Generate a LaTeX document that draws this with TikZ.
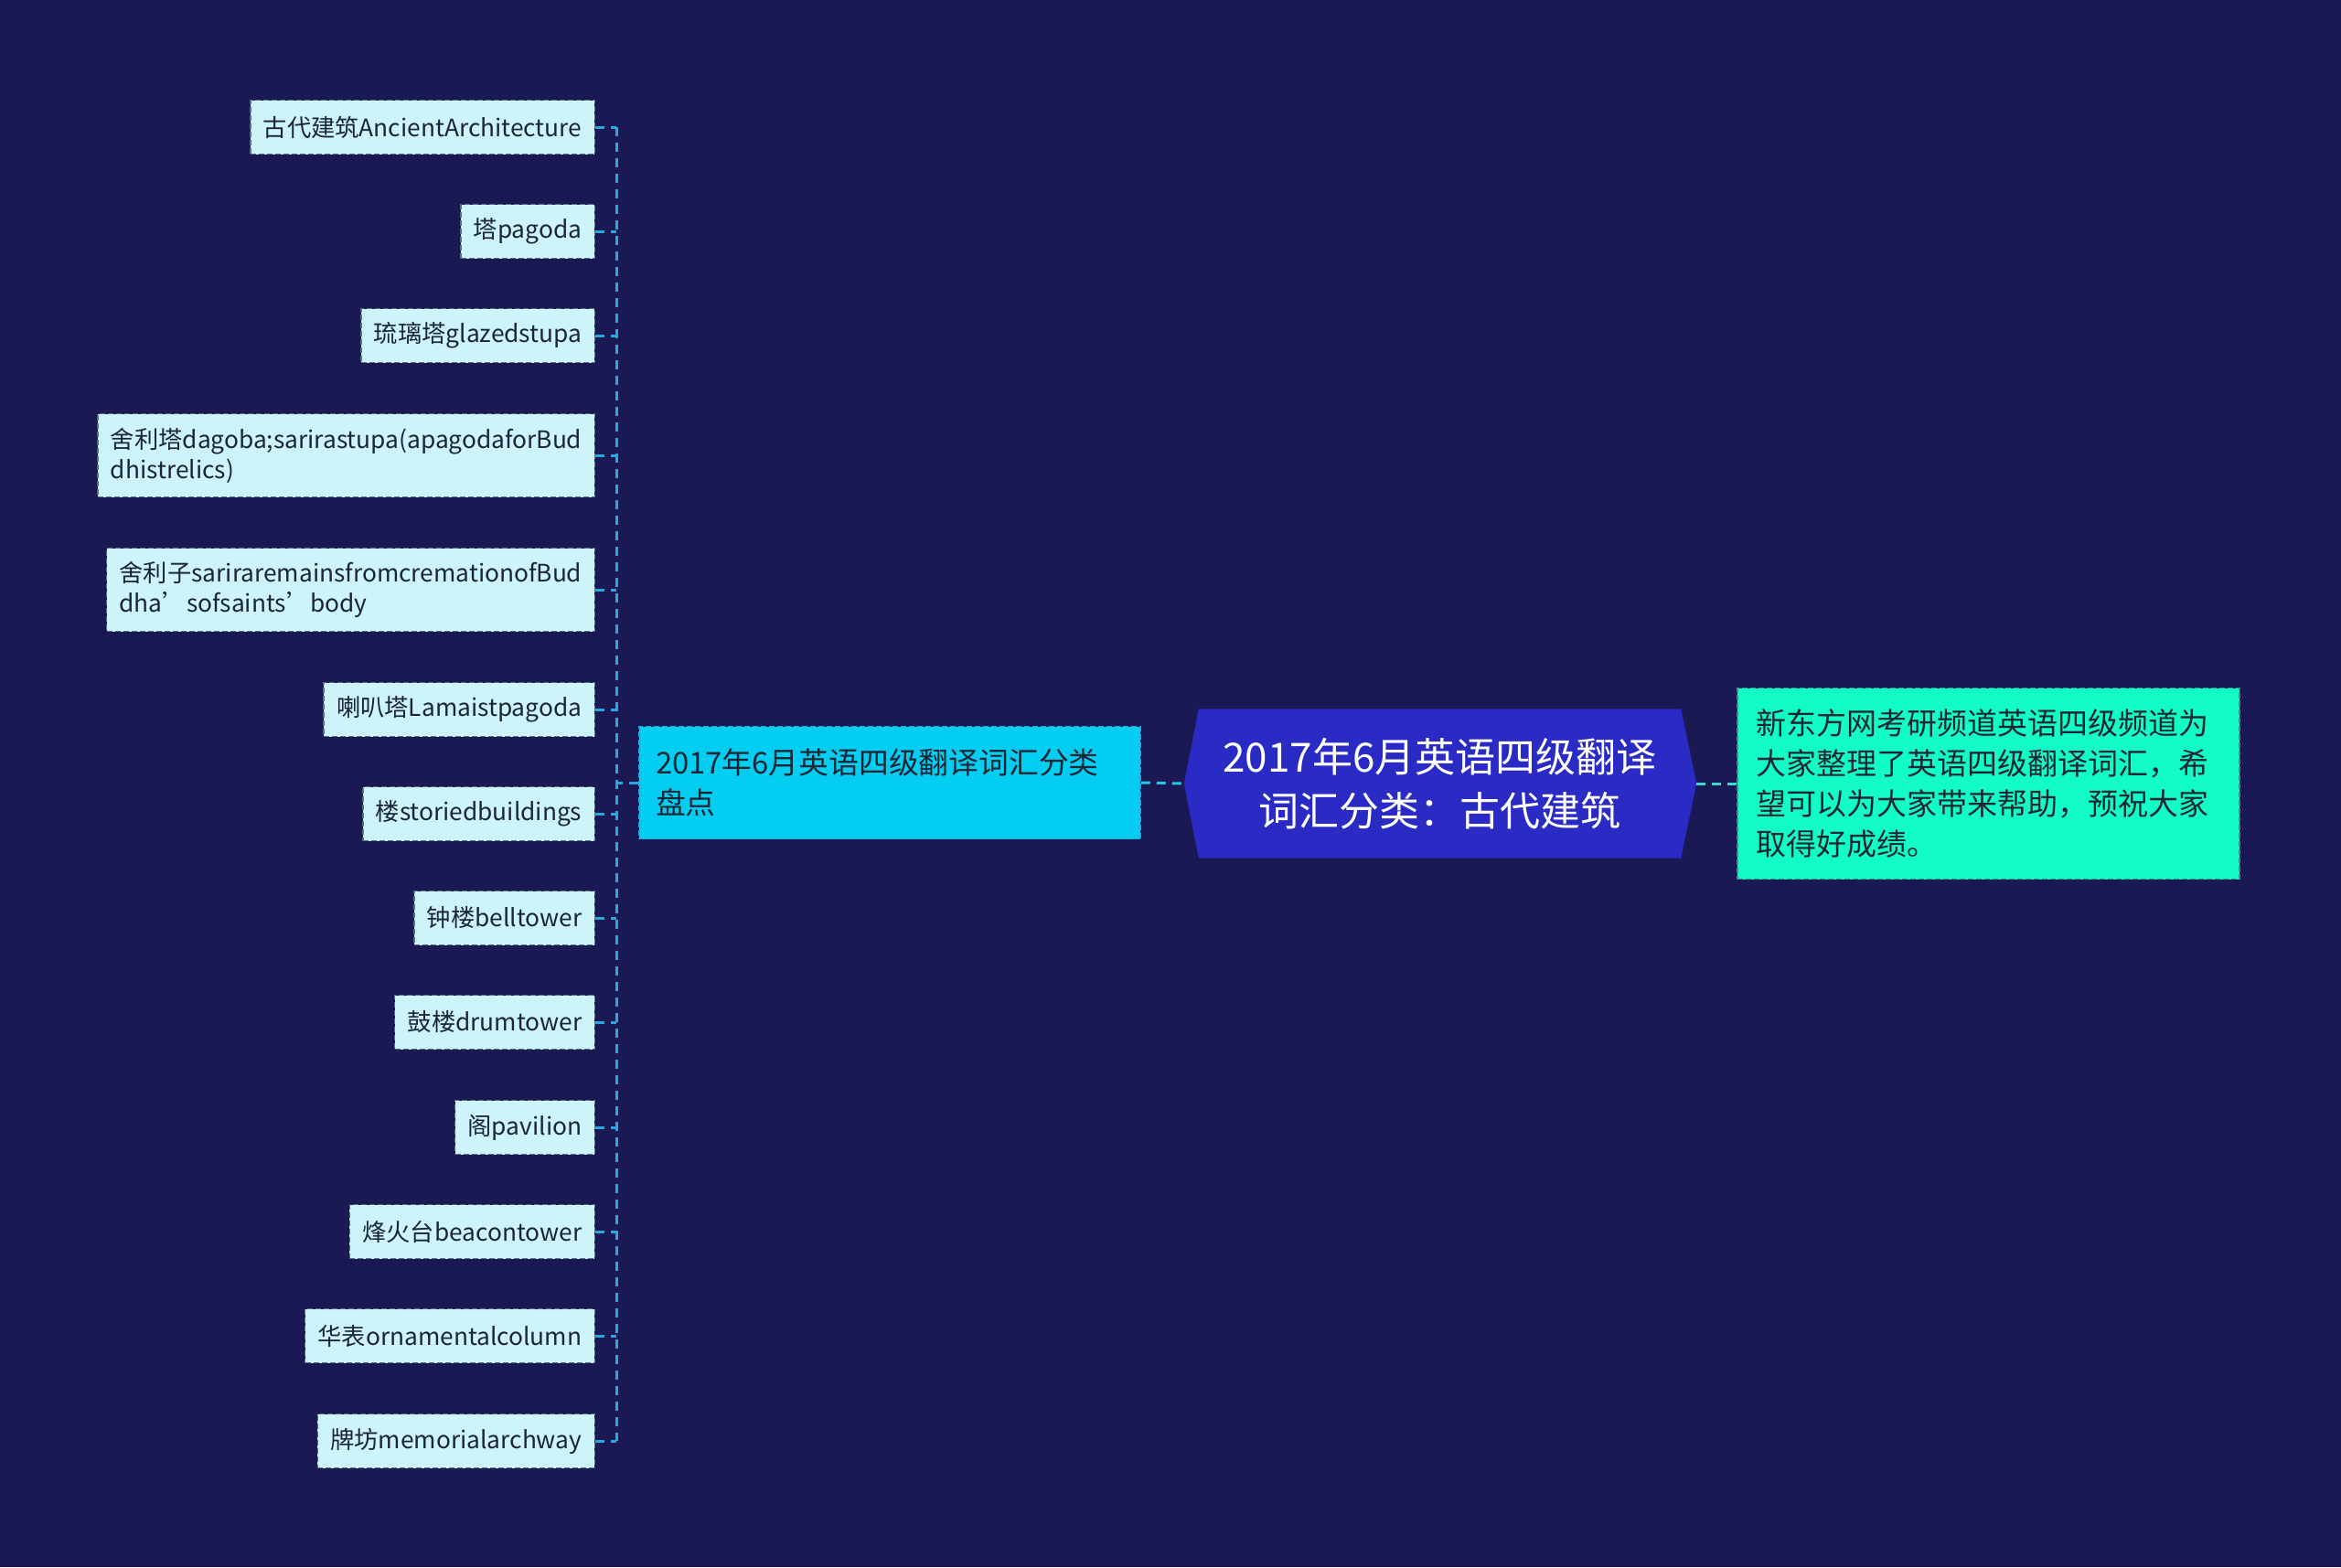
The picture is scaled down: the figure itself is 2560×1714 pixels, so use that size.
\documentclass[tikz,border=0pt]{standalone}
\usepackage{fontspec}
\setmainfont{Noto Sans CJK SC}
\usetikzlibrary{calc,backgrounds}
\definecolor{bgc}{HTML}{1A1953}
\definecolor{rootfill}{HTML}{2A2AC4}
\definecolor{midfill}{HTML}{04CDF2}
\definecolor{rightfill}{HTML}{12FCC6}
\definecolor{leaffill}{HTML}{CDF4FB}
\definecolor{leafborder}{HTML}{56708A}
\definecolor{leaftext}{HTML}{1B2635}
\definecolor{connleft}{HTML}{2BA6DE}
\definecolor{connmid}{HTML}{22C6E8}
\definecolor{connright}{HTML}{3AD8D2}
\tikzset{
  leafbox/.style={draw=leafborder, line width=1.5, dash pattern=on 6 off 3,
    fill=leaffill, text=leaftext, font=\fontsize{26.3}{33}\selectfont,
    inner xsep=14, inner ysep=0, minimum height=59, anchor=east, align=left},
  twoline/.style={minimum height=91},
  conn/.style={line width=3, dash pattern=on 10 off 7},
  midbox/.style={draw=connleft, line width=1.5, dash pattern=on 6 off 3,
    fill=midfill, text=leaftext, font=\fontsize{32.8}{44}\selectfont,
    text width=512, align=left, inner xsep=18, inner ysep=0,
    minimum height=123},
  rightbox/.style={draw=connright!70!black, line width=1.5, dash pattern=on 6 off 3,
    fill=rightfill, text=leaftext, font=\fontsize{33}{44}\selectfont,
    text width=509, align=left, inner xsep=20, inner ysep=0,
    minimum height=209},
  rootnode/.style={text=white, font=\fontsize{44}{59}\selectfont, align=center,
    minimum width=527, minimum height=163, inner sep=0}
}
\begin{document}
\begin{tikzpicture}[x=1pt,y=-1pt]
\useasboundingbox (0,0) rectangle (2560,1714);

% root
\node[rootnode] (root) at (1574.5,857) {2017年6月英语四级翻译\\词汇分类：古代建筑};
\begin{scope}[on background layer]
  \fill[bgc] (0,0) rectangle (2560,1714);
  \fill[rootfill] (root.north west) -- (root.north east) -- ([xshift=17]root.east)
    -- (root.south east) -- (root.south west) -- ([xshift=-16]root.west) -- cycle;
\end{scope}

% middle and right
\node[midbox] (mid) at (973,856) {2017年6月英语四级翻译词汇分类\\盘点};
\node[rightbox] (right) at (2174.5,857) {新东方网考研频道英语四级频道为\\大家整理了英语四级翻译词汇，希\\望可以为大家带来帮助，预祝大家\\取得好成绩。};

% leaves
\node[leafbox] (l1) at (651,139) {古代建筑AncientArchitecture};
\node[leafbox] (l2) at (651,253) {塔pagoda};
\node[leafbox] (l3) at (651,367) {琉璃塔glazedstupa};
\node[leafbox,twoline] (l4) at (651,498) {舍利塔dagoba;sarirastupa(apagodaforBud\\dhistrelics)};
\node[leafbox,twoline] (l5) at (651,645) {舍利子sariraremainsfromcremationofBud\\dha’sofsaints’body};
\node[leafbox] (l6) at (651,776) {喇叭塔Lamaistpagoda};
\node[leafbox] (l7) at (651,890) {楼storiedbuildings};
\node[leafbox] (l8) at (651,1004) {钟楼belltower};
\node[leafbox] (l9) at (651,1118) {鼓楼drumtower};
\node[leafbox] (l10) at (651,1233) {阁pavilion};
\node[leafbox] (l11) at (651,1347) {烽火台beacontower};
\node[leafbox] (l12) at (651,1461) {华表ornamentalcolumn};
\node[leafbox] (l13) at (651,1576) {牌坊memorialarchway};

% connectors
\coordinate (spine) at (674,856);
\draw[conn,connleft] (l1.east -| spine) -- (l13.east -| spine);
\draw[conn,connleft] (mid.west) -- (spine);
\foreach \i in {1,...,13}{
  \draw[conn,connleft] (l\i.east) -- (l\i.east -| spine);
}
\draw[conn,connmid] (mid.east) -- ([xshift=-16]root.west);
\draw[conn,connright] ([xshift=17]root.east) -- (right.west);
\end{tikzpicture}
\end{document}
